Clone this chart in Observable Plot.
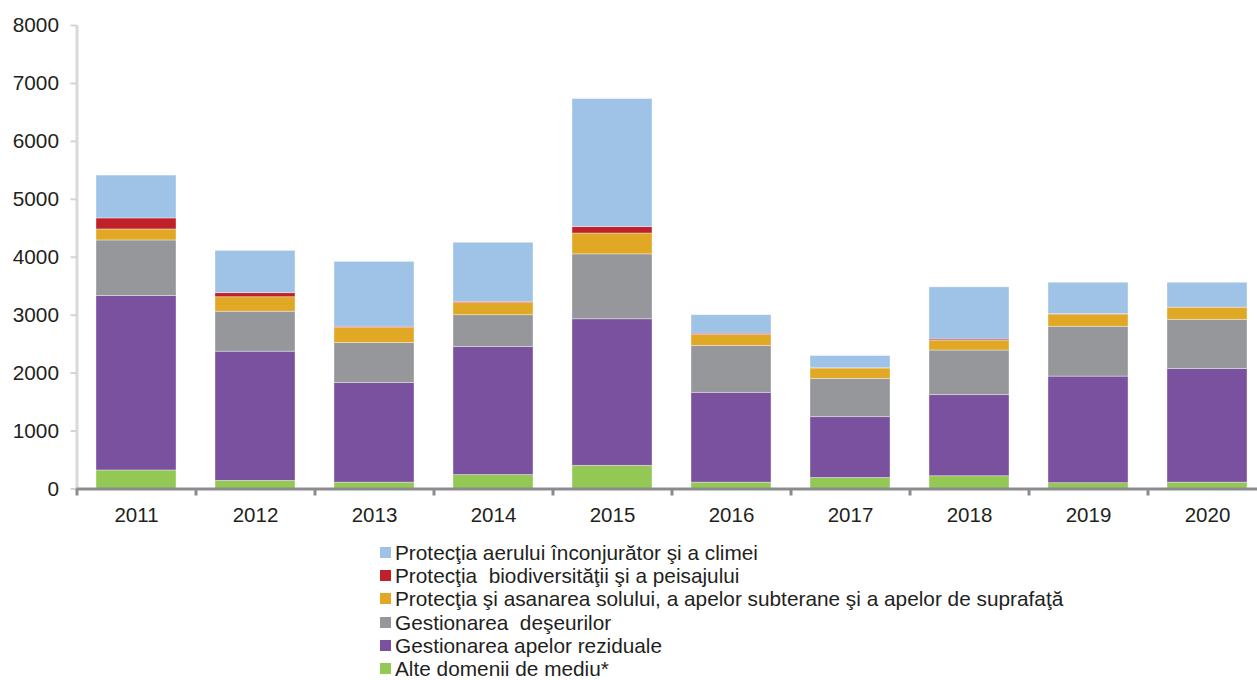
<!DOCTYPE html>
<html>
<head>
<meta charset="utf-8">
<script src="https://cdn.jsdelivr.net/npm/d3@7"></script>
<script src="https://cdn.jsdelivr.net/npm/@observablehq/plot@0.6"></script>
<style>
  body { margin: 0; background: #fff; font-family: "Liberation Sans", Arial, sans-serif; color: #231f20; }
  #chart svg { display: block; }
  #legend { margin-left: 380px; margin-top: 6px; }
  .row { display: flex; align-items: center; height: 23.2px; line-height: 23.2px; font-size: 20.8px; white-space: pre; }
  .sw { width: 11px; height: 11px; margin-right: 4px; flex: none; }
</style>
</head>
<body>
<div id="chart"></div>
<div id="legend"></div>
<script>
const years = ["2011","2012","2013","2014","2015","2016","2017","2018","2019","2020"];
const seriesNames = [
  "Alte domenii de mediu*",
  "Gestionarea apelor reziduale",
  "Gestionarea  deşeurilor",
  "Protecţia şi asanarea solului, a apelor subterane şi a apelor de suprafaţă",
  "Protecţia  biodiversităţii şi a peisajului",
  "Protecţia aerului înconjurător şi a climei"
];
const seriesColors = ["#92c853", "#7a519e", "#96979a", "#e0a825", "#c0202a", "#9fc3e6"];
const alte = [320, 140, 110, 240, 400, 110, 190, 220, 100, 110];
const apeReziduale = [3010, 2230, 1720, 2210, 2530, 1550, 1050, 1400, 1840, 1960];
const deseuri = [960, 690, 690, 550, 1120, 810, 660, 770, 860, 850];
const sol = [190, 250, 260, 210, 360, 190, 180, 170, 210, 210];
const biodiversitate = [190, 70, 20, 20, 110, 20, 5, 20, 10, 0];
const aer = [740, 730, 1120, 1020, 2210, 320, 210, 900, 540, 430];
const yTicks = [0, 1000, 2000, 3000, 4000, 5000, 6000, 7000, 8000];

const seriesValues = [alte, apeReziduale, deseuri, sol, biodiversitate, aer];
const table = [];
seriesNames.forEach((s, i) => years.forEach((y, j) => table.push({year: y, series: s, value: seriesValues[i][j]})));

const step = 119;
const chart = Plot.plot({
  width: 1257,
  height: 535,
  marginTop: 25,
  marginBottom: 46.5,
  marginLeft: 76.5,
  marginRight: 0,
  style: {fontFamily: '"Liberation Sans", Arial, sans-serif', color: "#231f20", background: "white"},
  x: {domain: years, range: [76.5, 76.5 + step * years.length], paddingInner: 0.33, paddingOuter: 0.165, axis: null, label: null},
  y: {domain: [0, 8000], axis: null, label: null},
  color: {domain: seriesNames, range: seriesColors},
  marks: [
    Plot.barY(table, {x: "year", y: "value", fill: "series", order: seriesNames, stroke: "white", strokeOpacity: 0.45, strokeWidth: 0.8}),
    Plot.ruleX([years[0]], {x: d => d, dx: -step / 2, y1: 0, y2: 8000, stroke: "#d9d9d9", strokeWidth: 3}),
    Plot.axisY({ticks: yTicks, label: null, tickSize: 6, tickPadding: 12, stroke: "#d4d4d4", strokeWidth: 2, fill: "#231f20", fontSize: 20.8, tickFormat: d => String(d)}),
    Plot.ruleY([0], {stroke: "#8b8b90", strokeWidth: 3}),
    Plot.axisX({label: null, tickSize: 7, text: null, dx: -step / 2, stroke: "#8b8b90", strokeWidth: 3}),
    Plot.axisX({label: null, tickSize: 0, tickPadding: 18, fontSize: 20.5, fill: "#231f20"})
  ]
});
document.getElementById("chart").appendChild(chart);

const legend = document.getElementById("legend");
for (let i = seriesNames.length - 1; i >= 0; i--) {
  const row = document.createElement("div");
  row.className = "row";
  const sw = document.createElement("span");
  sw.className = "sw";
  sw.style.background = seriesColors[i];
  const t = document.createElement("span");
  t.textContent = seriesNames[i];
  row.appendChild(sw);
  row.appendChild(t);
  legend.appendChild(row);
}
</script>
</body>
</html>
